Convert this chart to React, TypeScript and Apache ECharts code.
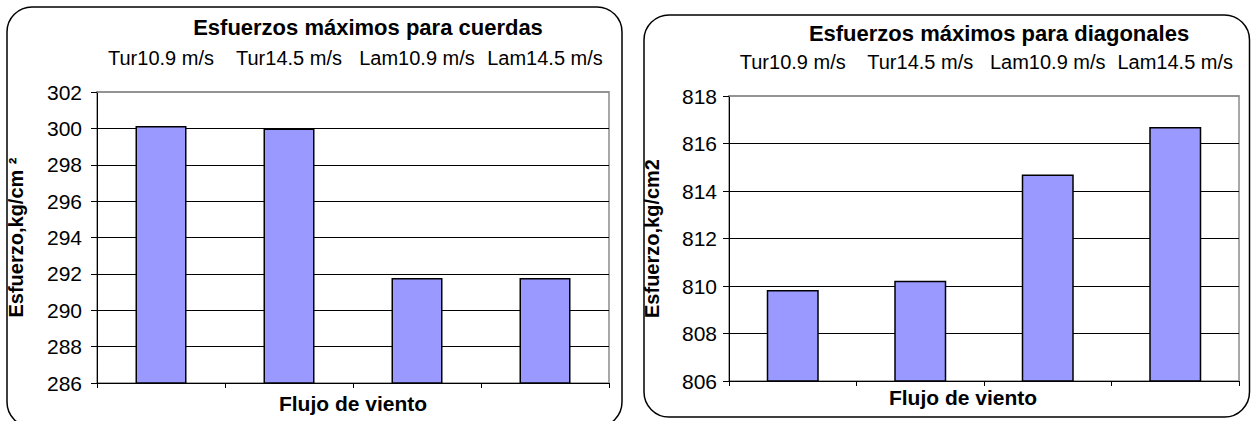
import React, { useEffect, useRef } from "react";
import * as echarts from "echarts";

const categories = ["Tur10.9 m/s", "Tur14.5 m/s", "Lam10.9 m/s", "Lam14.5 m/s"];
const cuerdasValues = [300.13, 300.0, 291.77, 291.77];
const diagonalesValues = [809.83, 810.22, 814.7, 816.69];
const leftTitle = "Esfuerzos máximos para cuerdas";
const rightTitle = "Esfuerzos máximos para diagonales";
const xName = "Flujo de viento";
const leftYName = "Esfuerzo,kg/cm ²";
const rightYName = "Esfuerzo,kg/cm2";

const FONT = "'Liberation Sans', Arial, sans-serif";

export default function App() {
  const ref = useRef<HTMLDivElement>(null);
  useEffect(() => {
    if (!ref.current) return;
    const chart = echarts.init(ref.current, undefined, { renderer: "svg" });

    const grids = [
      { left: 97, top: 92, width: 512, height: 291 },
      { left: 729, top: 96, width: 510, height: 285 },
    ];

    const bottomX = (gi: number) => ({
      type: "category",
      gridIndex: gi,
      position: "bottom",
      data: categories,
      axisLine: { show: true, lineStyle: { color: "#000", width: 1 } },
      axisTick: { show: true, length: 5, lineStyle: { color: "#000" } },
      axisLabel: { show: false },
      splitLine: { show: false },
    });
    const topX = (gi: number) => ({
      type: "category",
      gridIndex: gi,
      position: "top",
      data: categories,
      axisLine: { show: true, lineStyle: { color: "#8c8c8c", width: 1.5 } },
      axisTick: { show: false },
      axisLabel: { show: true, interval: 0, hideOverlap: false, color: "#000", fontSize: 20, fontFamily: FONT, margin: 24 },
      splitLine: { show: false },
    });
    const yAx = (gi: number, min: number, max: number, name: string, gap: number, lblMargin: number) => ({
      type: "value",
      gridIndex: gi,
      min,
      max,
      interval: 2,
      name,
      nameLocation: "middle",
      nameGap: gap,
      nameTextStyle: { fontSize: 20, fontWeight: "bold", fontFamily: FONT, color: "#000" },
      axisLine: { show: true, lineStyle: { color: "#000", width: 1 } },
      axisTick: { show: true, length: 6, lineStyle: { color: "#000" } },
      axisLabel: { color: "#000", fontSize: 21, fontFamily: FONT, margin: lblMargin },
      splitLine: { show: true, showMinLine: false, showMaxLine: false, lineStyle: { color: "#000", width: 1 } },
    });

    const barStyle = { color: "#9999ff", borderColor: "#000", borderWidth: 1.5 };

    chart.setOption({
      animation: false,
      backgroundColor: "#fff",
      grid: grids.map((g) => ({ ...g, show: true, borderColor: "#8c8c8c", borderWidth: 1.5, backgroundColor: "#fff" })),
      xAxis: [bottomX(0), topX(0), bottomX(1), topX(1)],
      yAxis: [yAx(0, 286, 302, leftYName, 71, 15), yAx(1, 806, 818, rightYName, 67, 12)],
      series: [
        { type: "bar", xAxisIndex: 0, yAxisIndex: 0, data: cuerdasValues, barWidth: 51, itemStyle: barStyle },
        { type: "bar", xAxisIndex: 2, yAxisIndex: 1, data: diagonalesValues, barWidth: 52, itemStyle: barStyle },
      ],
      graphic: [
        {
          type: "rect",
          shape: { x: 7, y: 7, width: 615, height: 420, r: 25 },
          style: { fill: "none", stroke: "#000", lineWidth: 1.5 },
          z: 100,
        },
        {
          type: "rect",
          shape: { x: 644, y: 15, width: 605.5, height: 402, r: 25 },
          style: { fill: "none", stroke: "#000", lineWidth: 1.5 },
          z: 100,
        },
        {
          type: "text",
          x: 368,
          y: 27,
          style: { text: leftTitle, fill: "#000", font: `bold 22px ${FONT}`, textAlign: "center", textVerticalAlign: "middle" },
        },
        {
          type: "text",
          x: 999,
          y: 33,
          style: { text: rightTitle, fill: "#000", font: `bold 22px ${FONT}`, textAlign: "center", textVerticalAlign: "middle" },
        },
        {
          type: "text",
          x: 353,
          y: 403,
          style: { text: xName, fill: "#000", font: `bold 21px ${FONT}`, textAlign: "center", textVerticalAlign: "middle" },
        },
        {
          type: "text",
          x: 963,
          y: 397,
          style: { text: xName, fill: "#000", font: `bold 21px ${FONT}`, textAlign: "center", textVerticalAlign: "middle" },
        },
      ],
    });
    return () => chart.dispose();
  }, []);
  return (
    <div
      ref={ref}
      style={{ position: "fixed", left: 0, top: 0, width: 1251, height: 421, background: "#fff" }}
    />
  );
}
